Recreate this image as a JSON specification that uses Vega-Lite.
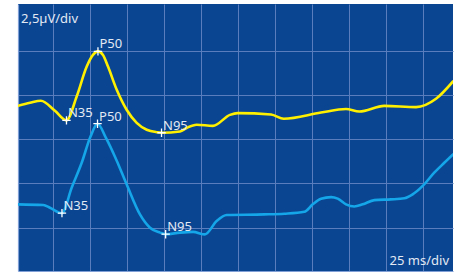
{
  "$schema": "https://vega.github.io/schema/vega-lite/v6.json",
  "width": 435,
  "height": 267,
  "autosize": "none",
  "padding": {"left": 18, "top": 4, "right": 9, "bottom": 5},
  "background": "#ffffff",
  "config": {
    "view": {"fill": "#0a4592", "stroke": null},
    "axis": {
      "labels": false,
      "ticks": false,
      "title": null,
      "grid": true,
      "gridColor": "#5a7dbd",
      "gridWidth": 1,
      "domain": true,
      "domainColor": "#7f9fd6",
      "domainWidth": 1.2
    }
  },
  "datasets": {
    "curves": [
      {"series": "upper", "t": 1.0, "v": 9.39},
      {"series": "upper", "t": 9.1, "v": 9.56},
      {"series": "upper", "t": 16.5, "v": 9.68},
      {"series": "upper", "t": 26.0, "v": 9.11},
      {"series": "upper", "t": 33.8, "v": 8.57},
      {"series": "upper", "t": 40.7, "v": 9.92},
      {"series": "upper", "t": 47.5, "v": 11.61},
      {"series": "upper", "t": 51.7, "v": 12.27},
      {"series": "upper", "t": 55.1, "v": 12.47},
      {"series": "upper", "t": 58.5, "v": 12.27},
      {"series": "upper", "t": 61.9, "v": 11.61},
      {"series": "upper", "t": 67.8, "v": 10.30},
      {"series": "upper", "t": 74.5, "v": 9.17},
      {"series": "upper", "t": 81.3, "v": 8.43},
      {"series": "upper", "t": 88.1, "v": 8.04},
      {"series": "upper", "t": 94.8, "v": 7.90},
      {"series": "upper", "t": 98.1, "v": 7.87},
      {"series": "upper", "t": 110.6, "v": 7.94},
      {"series": "upper", "t": 115.3, "v": 8.15},
      {"series": "upper", "t": 121.9, "v": 8.32},
      {"series": "upper", "t": 132.9, "v": 8.26},
      {"series": "upper", "t": 144.4, "v": 8.88},
      {"series": "upper", "t": 149.6, "v": 8.98},
      {"series": "upper", "t": 172.2, "v": 8.90},
      {"series": "upper", "t": 180.8, "v": 8.66},
      {"series": "upper", "t": 206.0, "v": 9.01},
      {"series": "upper", "t": 222.9, "v": 9.21},
      {"series": "upper", "t": 231.9, "v": 9.07},
      {"series": "upper", "t": 248.8, "v": 9.39},
      {"series": "upper", "t": 270.3, "v": 9.32},
      {"series": "upper", "t": 283.8, "v": 9.79},
      {"series": "upper", "t": 295.3, "v": 10.77},
      {"series": "lower", "t": 1.0, "v": 3.82},
      {"series": "lower", "t": 18.1, "v": 3.78},
      {"series": "lower", "t": 22.6, "v": 3.63},
      {"series": "lower", "t": 30.75, "v": 3.32},
      {"series": "lower", "t": 37.3, "v": 4.76},
      {"series": "lower", "t": 44.1, "v": 6.17},
      {"series": "lower", "t": 50.0, "v": 7.64},
      {"series": "lower", "t": 54.8, "v": 8.38},
      {"series": "lower", "t": 60.5, "v": 7.58},
      {"series": "lower", "t": 67.8, "v": 6.29},
      {"series": "lower", "t": 74.5, "v": 4.95},
      {"series": "lower", "t": 83.5, "v": 3.25},
      {"series": "lower", "t": 90.3, "v": 2.5},
      {"series": "lower", "t": 97.1, "v": 2.22},
      {"series": "lower", "t": 100.9, "v": 2.13},
      {"series": "lower", "t": 110.6, "v": 2.22},
      {"series": "lower", "t": 119.4, "v": 2.26},
      {"series": "lower", "t": 127.5, "v": 2.12},
      {"series": "lower", "t": 135.4, "v": 2.88},
      {"series": "lower", "t": 142.2, "v": 3.22},
      {"series": "lower", "t": 167.6, "v": 3.25},
      {"series": "lower", "t": 181.2, "v": 3.29},
      {"series": "lower", "t": 194.7, "v": 3.40},
      {"series": "lower", "t": 200.4, "v": 3.82},
      {"series": "lower", "t": 206.0, "v": 4.14},
      {"series": "lower", "t": 212.8, "v": 4.23},
      {"series": "lower", "t": 217.3, "v": 4.14},
      {"series": "lower", "t": 222.9, "v": 3.82},
      {"series": "lower", "t": 228.5, "v": 3.70},
      {"series": "lower", "t": 234.2, "v": 3.82},
      {"series": "lower", "t": 242.1, "v": 4.06},
      {"series": "lower", "t": 253.3, "v": 4.10},
      {"series": "lower", "t": 262.4, "v": 4.16},
      {"series": "lower", "t": 268.0, "v": 4.38},
      {"series": "lower", "t": 274.8, "v": 4.86},
      {"series": "lower", "t": 282.6, "v": 5.61},
      {"series": "lower", "t": 289.4, "v": 6.17},
      {"series": "lower", "t": 295.3, "v": 6.64}
    ],
    "peaks": [
      {"series": "upper", "peak": "N35", "t": 33.8, "v": 8.57},
      {"series": "upper", "peak": "P50", "t": 55.1, "v": 12.47},
      {"series": "upper", "peak": "N95", "t": 98.1, "v": 7.87},
      {"series": "lower", "peak": "N35", "t": 30.75, "v": 3.32},
      {"series": "lower", "peak": "P50", "t": 54.8, "v": 8.38},
      {"series": "lower", "peak": "N95", "t": 100.9, "v": 2.13}
    ],
    "scaleNote": [
      {"note": "2,5µV/div", "t": 3.0, "v": 14.08}
    ],
    "timeNote": [
      {"note": "25 ms/div", "t": 292.6, "v": 0.41}
    ]
  },
  "layer": [
    {
      "data": {"name": "curves"},
      "mark": {"type": "line", "interpolate": "monotone", "strokeWidth": 2.6, "strokeCap": "round", "strokeJoin": "round", "clip": true},
      "encoding": {
        "x": {"field": "t", "type": "quantitative", "scale": {"domain": [1, 295.3], "nice": false, "zero": false}, "axis": {"values": [25, 50, 75, 100, 125, 150, 175, 200, 225, 250, 275]}},
        "y": {"field": "v", "type": "quantitative", "scale": {"domain": [0.05, 15.15], "nice": false, "zero": false}, "axis": {"values": [2.5, 5, 7.5, 10, 12.5]}},
        "color": {"field": "series", "type": "nominal", "scale": {"domain": ["upper", "lower"], "range": ["#fff000", "#14a6e8"]}, "legend": null},
        "detail": {"field": "series"}
      }
    },
    {
      "data": {"name": "peaks"},
      "mark": {"type": "point", "shape": "M-1,0L1,0M0,-1L0,1", "filled": false, "stroke": "#ffffff", "strokeWidth": 1.3, "size": 70, "opacity": 1},
      "encoding": {
        "x": {"field": "t", "type": "quantitative"},
        "y": {"field": "v", "type": "quantitative"}
      }
    },
    {
      "data": {"name": "peaks"},
      "mark": {"type": "text", "align": "left", "baseline": "alphabetic", "dx": 1.5, "dy": -3, "font": "Noto Sans", "fontSize": 13, "color": "#e3e9f2"},
      "encoding": {
        "x": {"field": "t", "type": "quantitative"},
        "y": {"field": "v", "type": "quantitative"},
        "text": {"field": "peak"}
      }
    },
    {
      "data": {"name": "scaleNote"},
      "mark": {"type": "text", "align": "left", "baseline": "alphabetic", "font": "Noto Sans", "fontSize": 13, "color": "#e3e9f2"},
      "encoding": {
        "x": {"field": "t", "type": "quantitative"},
        "y": {"field": "v", "type": "quantitative"},
        "text": {"field": "note"}
      }
    },
    {
      "data": {"name": "timeNote"},
      "mark": {"type": "text", "align": "right", "baseline": "alphabetic", "font": "Noto Sans", "fontSize": 13, "color": "#e3e9f2"},
      "encoding": {
        "x": {"field": "t", "type": "quantitative"},
        "y": {"field": "v", "type": "quantitative"},
        "text": {"field": "note"}
      }
    }
  ]
}
